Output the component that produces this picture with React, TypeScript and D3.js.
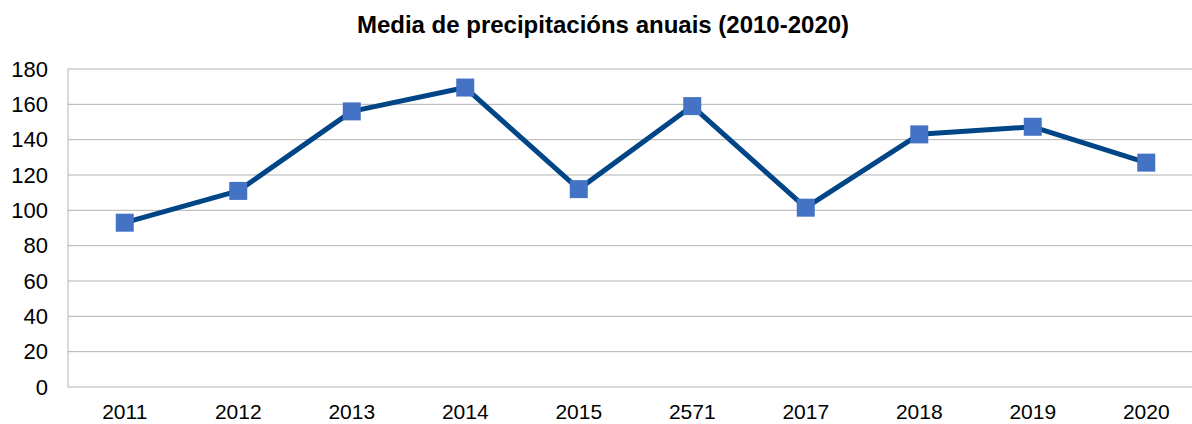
import React, { useRef, useEffect } from 'react';
import * as d3 from 'd3';

const years = ['2011', '2012', '2013', '2014', '2015', '2571', '2017', '2018', '2019', '2020'];
const precip = [93, 111, 156, 169.5, 112, 159, 101.5, 143, 147.3, 127];
const yTicks = [0, 20, 40, 60, 80, 100, 120, 140, 160, 180];

const App = () => {
  const svgRef = useRef<SVGSVGElement>(null);

  useEffect(() => {
    const svg = d3.select(svgRef.current);
    svg.selectAll('*').remove();
    const width = 1192;
    const height = 424;
    const margin = { top: 69, right: -11, bottom: 37, left: 68 };
    const font = '"Liberation Sans", Arial, sans-serif';

    const x = d3.scaleBand()
      .domain(years)
      .range([margin.left, width - margin.right])
      .padding(0);

    const y = d3.scaleLinear()
      .domain([0, 180])
      .range([height - margin.bottom, margin.top]);

    // gridlines
    svg.append('g')
      .selectAll('line')
      .data(yTicks)
      .join('line')
      .attr('x1', margin.left)
      .attr('x2', width - margin.right)
      .attr('y1', d => y(d))
      .attr('y2', d => y(d))
      .attr('stroke', '#b3b3b3')
      .attr('stroke-width', 1);

    // y axis line
    svg.append('line')
      .attr('x1', margin.left)
      .attr('x2', margin.left)
      .attr('y1', y(180))
      .attr('y2', y(0))
      .attr('stroke', '#b3b3b3');

    svg.append('g')
      .selectAll('text')
      .data(yTicks)
      .join('text')
      .attr('x', margin.left - 20)
      .attr('y', d => y(d))
      .attr('dy', '0.35em')
      .attr('text-anchor', 'end')
      .attr('font-family', font)
      .attr('font-size', 22)
      .attr('fill', '#000')
      .text(d => d);

    svg.append('g')
      .selectAll('text')
      .data(years)
      .join('text')
      .attr('x', d => x(d)! + x.bandwidth() / 2)
      .attr('y', height - 5)
      .attr('text-anchor', 'middle')
      .attr('font-family', font)
      .attr('font-size', 21)
      .attr('fill', '#000')
      .text(d => d);

    const line = d3.line<number>()
      .x((d, i) => x(years[i])! + x.bandwidth() / 2)
      .y(d => y(d));

    svg.append('path')
      .datum(precip)
      .attr('d', line)
      .attr('fill', 'none')
      .attr('stroke', '#004586')
      .attr('stroke-width', 5)
      .attr('stroke-linejoin', 'round');

    const s = 18;
    svg.append('g')
      .selectAll('rect')
      .data(precip)
      .join('rect')
      .attr('x', (d, i) => x(years[i])! + x.bandwidth() / 2 - s / 2)
      .attr('y', d => y(d) - s / 2)
      .attr('width', s)
      .attr('height', s)
      .attr('fill', '#4472c4');

    svg.append('text')
      .attr('x', 603)
      .attr('y', 33)
      .attr('text-anchor', 'middle')
      .attr('font-family', font)
      .attr('font-size', 24)
      .attr('font-weight', 'bold')
      .attr('fill', '#000')
      .text('Media de precipitacións anuais (2010-2020)');
  }, []);

  return <svg ref={svgRef} width={1192} height={424} style={{ position: 'absolute', left: 0, top: 0 }}></svg>;
};

export default App;
